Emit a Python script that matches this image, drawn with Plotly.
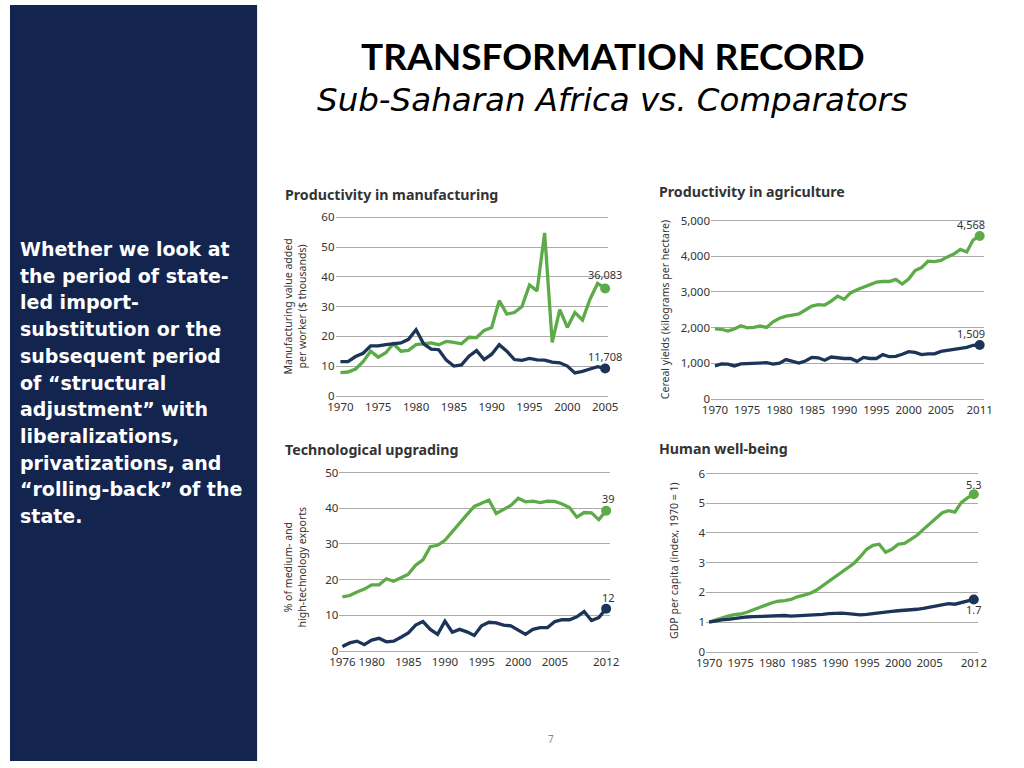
import plotly.graph_objects as go

W, H = 1024, 768
GREEN = "#5dab48"
NAVY = "#1b3457"
PANEL = "#13244f"
GRID = "#ababab"
TXT = "#333333"
FONT = "Noto Sans"

# ---------------- data ----------------
man_years = list(range(1970, 2006))
man_comp = [7.8, 8.0, 9.0, 11.5, 15.0, 13.0, 14.5, 17.5, 15.0, 15.3, 17.2, 17.5, 17.8, 17.2,
            18.3, 18.0, 17.5, 19.7, 19.6, 22.0, 23.0, 32.0, 27.5, 28.0, 30.0, 37.3, 35.3, 54.8,
            18.0, 29.0, 23.0, 28.0, 25.5, 32.5, 37.8, 36.1]
man_ssa = [11.5, 11.5, 13.2, 14.3, 16.8, 16.8, 17.2, 17.6, 17.8, 19.0, 22.2, 17.5, 15.7, 15.5,
           12.0, 10.0, 10.4, 13.3, 15.2, 12.2, 14.0, 17.2, 15.0, 12.2, 11.9, 12.6, 12.1, 12.0,
           11.3, 11.1, 10.0, 7.7, 8.2, 9.0, 9.8, 9.2]
man_labels = ["36,083", "11,708"]

agr_years = list(range(1970, 2012))
agr_comp = [1960, 1950, 1900, 1960, 2050, 1990, 2000, 2040, 2000, 2160, 2260, 2320, 2350, 2380,
            2490, 2600, 2640, 2630, 2740, 2880, 2790, 2970, 3060, 3130, 3200, 3270, 3290, 3290,
            3350, 3220, 3360, 3600, 3680, 3860, 3850, 3880, 3980, 4060, 4190, 4120, 4460, 4568]
agr_ssa = [920, 980, 970, 920, 980, 990, 990, 1000, 1010, 970, 1000, 1100, 1040, 1000, 1060,
           1160, 1150, 1080, 1170, 1140, 1130, 1130, 1050, 1160, 1130, 1130, 1240, 1180, 1190,
           1250, 1320, 1300, 1240, 1260, 1260, 1330, 1360, 1390, 1400, 1440, 1500, 1509]
agr_labels = ["4,568", "1,509"]

tech_years = list(range(1976, 2013))
tech_comp = [15.1, 15.5, 16.5, 17.3, 18.5, 18.5, 20.2, 19.5, 20.5, 21.5, 24.0, 25.5, 29.2, 29.6,
             31.0, 33.5, 35.8, 38.2, 40.5, 41.5, 42.3, 38.5, 39.6, 40.8, 42.8, 41.8, 42.0, 41.6,
             42.0, 41.9, 41.2, 40.2, 37.5, 38.8, 38.7, 36.8, 39.3]
tech_ssa = [1.2, 2.2, 2.7, 1.7, 3.0, 3.5, 2.5, 2.7, 3.8, 5.0, 7.2, 8.2, 6.0, 4.6, 8.3, 5.2, 6.0,
            5.3, 4.3, 7.0, 8.0, 7.8, 7.2, 7.0, 5.8, 4.6, 6.0, 6.5, 6.5, 8.2, 8.7, 8.7, 9.5, 11.0,
            8.5, 9.3, 11.8]
tech_labels = ["39", "12"]

gdp_years = list(range(1970, 2013))
gdp_comp = [1.0, 1.07, 1.15, 1.2, 1.25, 1.27, 1.33, 1.42, 1.5, 1.57, 1.65, 1.7, 1.72, 1.76, 1.85,
            1.9, 1.96, 2.07, 2.22, 2.37, 2.5, 2.65, 2.8, 2.98, 3.2, 3.45, 3.58, 3.62, 3.35, 3.45,
            3.62, 3.65, 3.78, 3.92, 4.12, 4.3, 4.48, 4.68, 4.75, 4.7, 5.02, 5.18, 5.3]
gdp_ssa = [1.0, 1.04, 1.07, 1.09, 1.12, 1.15, 1.17, 1.18, 1.19, 1.2, 1.2, 1.22, 1.22, 1.2, 1.21,
           1.22, 1.23, 1.23, 1.26, 1.28, 1.29, 1.3, 1.28, 1.27, 1.24, 1.26, 1.29, 1.32, 1.35, 1.36,
           1.38, 1.39, 1.41, 1.43, 1.46, 1.5, 1.55, 1.6, 1.62, 1.6, 1.65, 1.71, 1.76]
gdp_labels = ["5.3", "1.7"]

man_xticks = [1970, 1975, 1980, 1985, 1990, 1995, 2000, 2005]
agr_xticks = [1970, 1975, 1980, 1985, 1990, 1995, 2000, 2005, 2011]
tech_xticks = [1976, 1980, 1985, 1990, 1995, 2000, 2005, 2012]
gdp_xticks = [1970, 1975, 1980, 1985, 1990, 1995, 2000, 2005, 2012]

man_yticks = [0, 10, 20, 30, 40, 50, 60]
agr_yticks = [0, 1000, 2000, 3000, 4000, 5000]
agr_yticktext = ["0", "1,000", "2,000", "3,000", "4,000", "5,000"]
tech_yticks = [0, 10, 20, 30, 40, 50]
gdp_yticks = [0, 1, 2, 3, 4, 5, 6]

titles = ["Productivity in manufacturing", "Productivity in agriculture",
          "Technological upgrading", "Human well-being"]
ytitles = ["Manufacturing value added<br>per worker ($ thousands)",
           "Cereal yields (kilograms per hectare)",
           "% of medium- and<br>high-technology exports",
           "GDP per capita (index, 1970 = 1)"]

side_lines = ["Whether we look at", "the period of state-", "led import-",
              "substitution or the", "subsequent period", "of \u201cstructural",
              "adjustment\u201d with", "liberalizations,", "privatizations, and",
              "\u201crolling-back\u201d of the", "state."]

# ---------------- layout helpers ----------------
def px_x(v):
    return v / W

def px_y(v):
    return 1 - v / H

panels = [
    dict(years=man_years, comp=man_comp, ssa=man_ssa, labels=man_labels, xt=man_xticks,
         yt=man_yticks, ytt=[str(v) for v in man_yticks], xl=332, xr=610, fp=337, lp=607,
         y0=397, ppu=3.02, ymax=61, sh=[(0, 14), (0, 12)], title_xy=(278, 193),
         ytitle_xy=(291, 306)),
    dict(years=agr_years, comp=agr_comp, ssa=agr_ssa, labels=agr_labels, xt=agr_xticks,
         yt=agr_yticks, ytt=agr_yticktext, xl=715, xr=993, fp=719, lp=989,
         y0=400, ppu=0.0362, ymax=5100, sh=[(-9, 11), (-9, 11)], title_xy=(660, 189),
         ytitle_xy=(668, 309)),
    dict(years=tech_years, comp=tech_comp, ssa=tech_ssa, labels=tech_labels, xt=tech_xticks,
         yt=tech_yticks, ytt=[str(v) for v in tech_yticks], xl=336, xr=612, fp=339, lp=608,
         y0=656, ppu=3.62, ymax=51, sh=[(2, 12), (2, 11)], title_xy=(278, 452),
         ytitle_xy=(291, 571)),
    dict(years=gdp_years, comp=gdp_comp, ssa=gdp_ssa, labels=gdp_labels, xt=gdp_xticks,
         yt=gdp_yticks, ytt=[str(v) for v in gdp_yticks], xl=710, xr=987, fp=713, lp=983,
         y0=657, ppu=30.17, ymax=6.1, sh=[(0, 10), (0, -10)], title_xy=(660, 451),
         ytitle_xy=(677, 564)),
]

fig = go.Figure()
annotations = []
layout_axes = {}

for i, p in enumerate(panels):
    n = i + 1
    xa = "x" if n == 1 else f"x{n}"
    ya = "y" if n == 1 else f"y{n}"
    for series, color in ((p["comp"], GREEN), (p["ssa"], NAVY)):
        fig.add_trace(go.Scatter(x=p["years"], y=series, xaxis=xa, yaxis=ya, mode="lines",
                                 line=dict(color=color, width=3.3), hoverinfo="skip",
                                 showlegend=False, cliponaxis=False))
        fig.add_trace(go.Scatter(x=[p["years"][-1]], y=[series[-1]], xaxis=xa, yaxis=ya,
                                 mode="markers", marker=dict(color=color, size=10),
                                 hoverinfo="skip", showlegend=False, cliponaxis=False))
    span_years = p["years"][-1] - p["years"][0]
    ppy = (p["lp"] - p["fp"]) / span_years
    xmin = p["years"][0] - (p["fp"] - p["xl"]) / ppy
    xmax = p["years"][-1] + (p["xr"] - p["lp"]) / ppy
    ytop_px = p["y0"] - p["ymax"] * p["ppu"]
    key_x = "xaxis" if n == 1 else f"xaxis{n}"
    key_y = "yaxis" if n == 1 else f"yaxis{n}"
    layout_axes[key_x] = dict(domain=[px_x(p["xl"]), px_x(p["xr"])], range=[xmin, xmax],
                              anchor=ya, tickvals=p["xt"], ticktext=[str(v) for v in p["xt"]],
                              showgrid=False, zeroline=False, showline=True, linecolor=GRID,
                              linewidth=1.3, ticks="", ticklen=0,
                              tickfont=dict(family=FONT, size=11.5, color=TXT), fixedrange=True)
    layout_axes[key_y] = dict(domain=[px_y(p["y0"]), px_y(ytop_px)], range=[0, p["ymax"]],
                              anchor=xa, tickvals=p["yt"], ticktext=p["ytt"], showgrid=True,
                              gridcolor=GRID, gridwidth=1.3, zeroline=False, showline=False,
                              ticks="", tickfont=dict(family=FONT, size=11.5, color=TXT),
                              fixedrange=True)
    for series, lab, (dx, dy) in zip((p["comp"], p["ssa"]), p["labels"], p["sh"]):
        annotations.append(dict(x=p["years"][-1], y=series[-1], xref=xa, yref=ya, text=lab,
                                showarrow=False, xshift=dx, yshift=dy,
                                xanchor="center", yanchor="middle",
                                font=dict(family=FONT, size=11, color=TXT)))
    tx, ty = p["title_xy"]
    annotations.append(dict(x=px_x(tx), y=px_y(ty), xref="paper", yref="paper",
                            text=f"<b>{titles[i]}</b>", showarrow=False, xanchor="left",
                            yanchor="middle", font=dict(family=FONT, size=14.2, color=TXT)))
    ax, ay = p["ytitle_xy"]
    annotations.append(dict(x=px_x(ax), y=px_y(ay), xref="paper", yref="paper",
                            text=ytitles[i], showarrow=False, textangle=-90,
                            xanchor="center", yanchor="middle",
                            font=dict(family=FONT, size=10.5, color=TXT)))

# slide title
annotations.append(dict(x=px_x(615), y=px_y(51), xref="paper", yref="paper",
                        text="<b>TRANSFORMATION RECORD</b>", showarrow=False,
                        xanchor="center", yanchor="middle",
                        font=dict(family="Lato", size=37, color="#000000")))
annotations.append(dict(x=px_x(615), y=px_y(97), xref="paper", yref="paper",
                        text="<i>Sub-Saharan Africa vs. Comparators</i>", showarrow=False,
                        xanchor="center", yanchor="middle",
                        font=dict(family="DejaVu Sans", size=32.5, color="#000000")))

# side text
for k, line in enumerate(side_lines):
    annotations.append(dict(x=px_x(8), y=px_y(248 + k * 27.1), xref="paper", yref="paper",
                            text=f"<b>{line}</b>", showarrow=False, xanchor="left",
                            yanchor="middle",
                            font=dict(family="DejaVu Sans", size=19, color="#ffffff")))

annotations.append(dict(x=px_x(552), y=px_y(746), xref="paper", yref="paper", text="7",
                        showarrow=False, xanchor="center", yanchor="middle",
                        font=dict(family=FONT, size=10, color="#888888")))

fig.update_layout(
    width=W, height=H, margin=dict(l=0, r=0, t=0, b=0),
    paper_bgcolor="#ffffff", plot_bgcolor="rgba(0,0,0,0)",
    showlegend=False, annotations=annotations,
    shapes=[dict(type="rect", xref="paper", yref="paper", x0=0, x1=252 / W, y0=0, y1=1,
                 fillcolor=PANEL, line=dict(width=0), layer="below")],
    **layout_axes,
)

fig.write_html("out.html", config={"displayModeBar": False},
               post_script="document.body.style.margin='0';document.body.style.overflow='hidden';")
